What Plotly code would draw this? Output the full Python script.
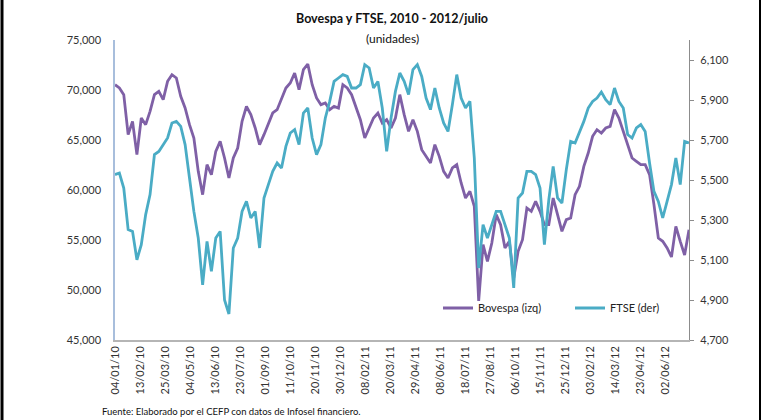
import pandas as pd
import plotly.graph_objects as go

# Weekly readings (Mondays) from 2010-01-04
start_date = "2010-01-04"
n_weeks = 132

bovespa = [
    70533, 70200, 69533, 65533, 66867, 63533, 67200, 66533, 67867, 69533,
    69867, 69033, 70867, 71533, 71200, 69367, 68200, 66533, 65200, 61867,
    59533, 62533, 61533, 63867, 64867, 63200, 61200, 63200, 64200, 66867,
    68367, 67533, 66200, 64533, 65533, 66533, 67700, 68033, 69033, 70200,
    70700, 71700, 70033, 72033, 72600, 70533, 69200, 68533, 68700, 68033,
    68367, 68200, 70533, 70200, 69533, 68200, 67033, 65200, 66200, 67200,
    67700, 66700, 67033, 66200, 67200, 69533, 67533, 65867, 67033, 65867,
    64033, 63367, 62700, 64533, 63367, 61867, 61200, 62200, 62533, 60700,
    59200, 59867, 58367, 48900, 54533, 52867, 54700, 57533, 56533, 54200,
    54867, 51200, 53867, 55033, 58200, 57867, 58867, 57867, 56533, 56533,
    59200, 57533, 55867, 57033, 57200, 59533, 60367, 62367, 63700, 65367,
    66033, 65700, 66200, 66367, 68033, 67200, 65867, 64700, 63200, 62867,
    62533, 62533, 61533, 58533, 55200, 54867, 54200, 53300, 56367, 54867,
    53500, 56033,
]

ftse = [
    5527, 5535, 5460, 5252, 5243, 5101, 5177, 5327, 5427, 5627,
    5643, 5677, 5710, 5785, 5793, 5768, 5677, 5510, 5343, 5210,
    4976, 5193, 5043, 5210, 5243, 4900, 4830, 5160, 5210, 5343,
    5393, 5310, 5343, 5160, 5410, 5477, 5543, 5585, 5560, 5668,
    5735, 5752, 5677, 5835, 5860, 5710, 5627, 5677, 5810, 5893,
    5993, 6010, 6027, 6018, 5960, 5960, 5977, 6077, 6060, 5960,
    5993, 5860, 5643, 5810, 5943, 6035, 5993, 5927, 6052, 6077,
    6018, 5910, 5852, 5960, 5860, 5785, 5743, 5877, 6027, 5910,
    5860, 5893, 5610, 5060, 5277, 5210, 5277, 5343, 5343, 5277,
    5210, 4960, 5410, 5435, 5543, 5543, 5527, 5460, 5177, 5400,
    5568, 5410, 5385, 5552, 5693, 5685, 5735, 5793, 5860, 5893,
    5910, 5940, 5902, 5877, 5960, 5893, 5860, 5727, 5710, 5760,
    5777, 5743, 5585, 5443, 5393, 5310, 5393, 5477, 5610, 5477,
    5693, 5685,
]

tick_labels = [
    "04/01/10", "13/02/10", "25/03/10", "04/05/10", "13/06/10", "23/07/10",
    "01/09/10", "11/10/10", "20/11/10", "30/12/10", "08/02/11", "20/03/11",
    "29/04/11", "08/06/11", "18/07/11", "27/08/11", "06/10/11", "15/11/11",
    "25/12/11", "03/02/12", "14/03/12", "23/04/12", "02/06/12",
]

dates = pd.date_range(start_date, periods=n_weeks, freq="7D")
tick_vals = [pd.to_datetime(t, format="%d/%m/%y") for t in tick_labels]

PURPLE = "#7f60a6"
CYAN = "#4aacc5"
FONT = "Lato"

# plot area in page pixels
PL, PR, PT, PB = 115, 689, 40, 340
PW, PH = PR - PL, PB - PT


def px(x):
    return (x - PL) / PW


def py(y):
    return (PB - y) / PH


fig = go.Figure()
fig.add_trace(go.Scatter(
    x=dates, y=bovespa, name="Bovespa (izq)", mode="lines",
    line=dict(color=PURPLE, width=2.8), yaxis="y",
))
fig.add_trace(go.Scatter(
    x=dates, y=ftse, name="FTSE (der)", mode="lines",
    line=dict(color=CYAN, width=2.8), yaxis="y2",
))

end_date = pd.Timestamp("2012-07-09")

fig.update_layout(
    width=784, height=420,
    margin=dict(l=PL, r=784 - PR, t=PT, b=420 - PB, autoexpand=False),
    paper_bgcolor="white", plot_bgcolor="white",
    font=dict(family=FONT, size=11, color="#333333"),
    showlegend=True,
    legend=dict(
        orientation="h", x=px(438), y=py(308), xanchor="left", yanchor="middle",
        bgcolor="rgba(0,0,0,0)", font=dict(size=11, color="#222222"),
        entrywidth=87, itemwidth=30,
    ),
    xaxis=dict(
        type="date", range=[pd.Timestamp(start_date), end_date],
        tickvals=tick_vals, ticktext=tick_labels, tickangle=-90,
        showgrid=False, showline=True, linecolor="#b5b5b5", linewidth=1.5,
        ticks="", tickfont=dict(size=11, color="#333333"),
        zeroline=False, automargin=False,
    ),
    yaxis=dict(
        range=[45000, 75000], dtick=5000, tick0=45000, tickformat=",",
        showgrid=False, showline=True, linecolor="#a8bedc", linewidth=1.5,
        ticks="", zeroline=False, tickfont=dict(size=11, color="#333333"),
        ticklabelstandoff=10, automargin=False,
    ),
    yaxis2=dict(
        range=[4700, 6200], dtick=200, tick0=4700, tickformat=",",
        overlaying="y", side="right", anchor="x",
        showgrid=False, showline=True, linecolor="#8c8c8c", linewidth=1.2,
        ticks="outside", ticklen=4, tickcolor="#8c8c8c",
        zeroline=False, tickfont=dict(size=11, color="#333333"),
        ticklabelstandoff=4, automargin=False,
    ),
    annotations=[
        dict(text="<b>Bovespa y FTSE, 2010 - 2012/julio</b>", xref="paper", yref="paper",
             x=px(392), y=py(18), xanchor="center", yanchor="middle",
             showarrow=False, font=dict(size=12.5, color="#111111")),
        dict(text="(unidades)", xref="paper", yref="paper",
             x=px(392), y=py(38), xanchor="center", yanchor="middle",
             showarrow=False, font=dict(size=12, color="#111111")),
        dict(text="Fuente: Elaborado por el CEFP con datos de Infosel financiero.",
             xref="paper", yref="paper",
             x=px(100), y=py(411), xanchor="left", yanchor="middle",
             showarrow=False, font=dict(size=9.5, color="#111111")),
    ],
    shapes=[
        dict(type="line", xref="paper", yref="paper",
             x0=px(2), x1=px(2), y0=py(0), y1=py(420),
             line=dict(color="black", width=3)),
        dict(type="line", xref="paper", yref="paper",
             x0=px(760), x1=px(760), y0=py(0), y1=py(420),
             line=dict(color="black", width=2)),
    ],
)

fig.write_html(
    "out.html",
    config={"displayModeBar": False},
    post_script="document.body.style.margin='0';document.body.style.padding='0';",
)
